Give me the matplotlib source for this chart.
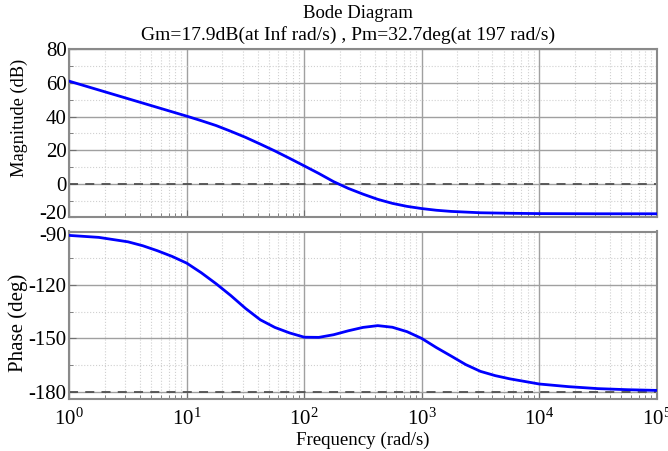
import matplotlib
matplotlib.use('Agg')
import matplotlib.pyplot as plt
import matplotlib.transforms as mtransforms
from matplotlib.ticker import LogLocator, MultipleLocator, NullFormatter

plt.rcParams['font.family'] = ['Liberation Serif', 'DejaVu Serif']
plt.rcParams['mathtext.fontset'] = 'stix'
plt.rcParams['axes.unicode_minus'] = False
plt.rcParams['font.size'] = 15

freq_mag = [1, 3.16, 10, 13.3, 17.8, 23.7, 31.6, 42.2, 56.2, 75, 100, 133, 178,
            237, 316, 422, 562, 750, 1000, 1330, 1780, 3160, 5620, 10000,
            31600, 100000]
mag_db = [61, 50.6, 40.2, 37.5, 34.6, 31.2, 27.6, 23.6, 19.5, 15.1, 10.6, 6.1,
          1.2, -2.8, -6.2, -9.3, -11.7, -13.5, -14.8, -15.8, -16.5, -17.3,
          -17.6, -17.8, -17.9, -17.9]

freq_phase = [1, 1.78, 3.16, 4.22, 5.62, 7.5, 10, 13.3, 17.8, 23.7, 31.6, 42.2,
              56.2, 75, 100, 133, 178, 237, 316, 422, 562, 750, 1000, 1330,
              1780, 2370, 3160, 4220, 5620, 10000, 17800, 31600, 56200, 100000]
phase_deg = [-92.2, -93.3, -95.8, -98.0, -100.8, -104.0, -107.8, -113.2,
             -119.4, -126.0, -133.2, -139.6, -143.9, -147.0, -149.4, -149.5,
             -148.0, -145.8, -143.9, -142.9, -143.8, -146.3, -150.1, -155.2,
             -160.0, -164.8, -168.6, -171.0, -172.8, -175.7, -177.2, -178.3,
             -178.9, -179.3]

mag_ticks = [-20, 0, 20, 40, 60, 80]
phase_ticks = [-180, -150, -120, -90]

W, H = 668, 451
fig = plt.figure(figsize=(W / 100, H / 100), dpi=100)
ax_mag = fig.add_axes([69.3 / W, 1 - 217.3 / H, 587.4 / W, 168 / H])
ax_ph = fig.add_axes([69.3 / W, 1 - 399.3 / H, 587.4 / W, 167.8 / H])

for ax in (ax_mag, ax_ph):
    ax.set_xscale('log')
    ax.set_xlim(1, 1e5)
    ax.xaxis.set_major_locator(LogLocator(base=10, numticks=10))
    ax.xaxis.set_minor_locator(LogLocator(base=10, subs=range(2, 10), numticks=100))
    ax.xaxis.set_minor_formatter(NullFormatter())
    ax.grid(True, which='major', color='#a0a0a0', lw=1, ls='-')
    ax.grid(True, which='minor', color='#d0d0d0', lw=0.8, ls=':')
    ax.set_axisbelow(True)
    for s in ax.spines.values():
        s.set_color('#8a8a8a')
        s.set_linewidth(1.5)
    ax.tick_params(which='both', direction='in', color='#707070',
                   top=False, right=False, pad=2)
    ax.tick_params(which='major', length=5)
    ax.tick_params(which='minor', length=3)
ax_ph.tick_params(axis='x', which='major', pad=7)

# magnitude
ax_mag.plot(freq_mag, mag_db, color='#0000ff', lw=2, zorder=3)
ax_mag.axhline(0, color='#505050', lw=1.3, ls=(0, (5, 4)), zorder=2)
ax_mag.set_ylim(-20, 80)
ax_mag.set_yticks(mag_ticks)
ax_mag.yaxis.set_minor_locator(MultipleLocator(10))
ax_mag.set_xticklabels([])
ax_mag.set_ylabel('Magnitude (dB)', fontsize=13.2)
ax_mag.yaxis.set_label_coords(-0.0695, 0.59)

# phase
ax_ph.plot(freq_phase, phase_deg, color='#0000ff', lw=2, zorder=3)
ax_ph.axhline(-180, color='#505050', lw=1.3, ls=(0, (5, 4)), zorder=2)
ax_ph.set_ylim(-184.3, -90)
ax_ph.set_yticks(phase_ticks)
ax_ph.yaxis.set_minor_locator(MultipleLocator(15))
ax_ph.set_ylabel('Phase (deg)', fontsize=15)
ax_ph.yaxis.set_label_coords(-0.0695, 0.455)
ax_ph.set_xlabel('Frequency (rad/s)', fontsize=13.6, labelpad=1)

# nudge the labels at the shared edge apart a little
lab = ax_mag.yaxis.get_major_ticks()[0].label1
lab.set_transform(lab.get_transform() +
                  mtransforms.ScaledTranslation(0, 5 / 100, fig.dpi_scale_trans))
lab = ax_ph.yaxis.get_major_ticks()[-1].label1
lab.set_transform(lab.get_transform() +
                  mtransforms.ScaledTranslation(0, -3 / 100, fig.dpi_scale_trans))

fig.text(358 / W, 1 - 13 / H, 'Bode Diagram', ha='center', va='center',
         fontsize=13.5)
fig.text(348 / W, 1 - 35 / H,
         'Gm=17.9dB(at Inf rad/s) , Pm=32.7deg(at 197 rad/s)',
         ha='center', va='center', fontsize=14)

fig.savefig('out.png', dpi=100)
